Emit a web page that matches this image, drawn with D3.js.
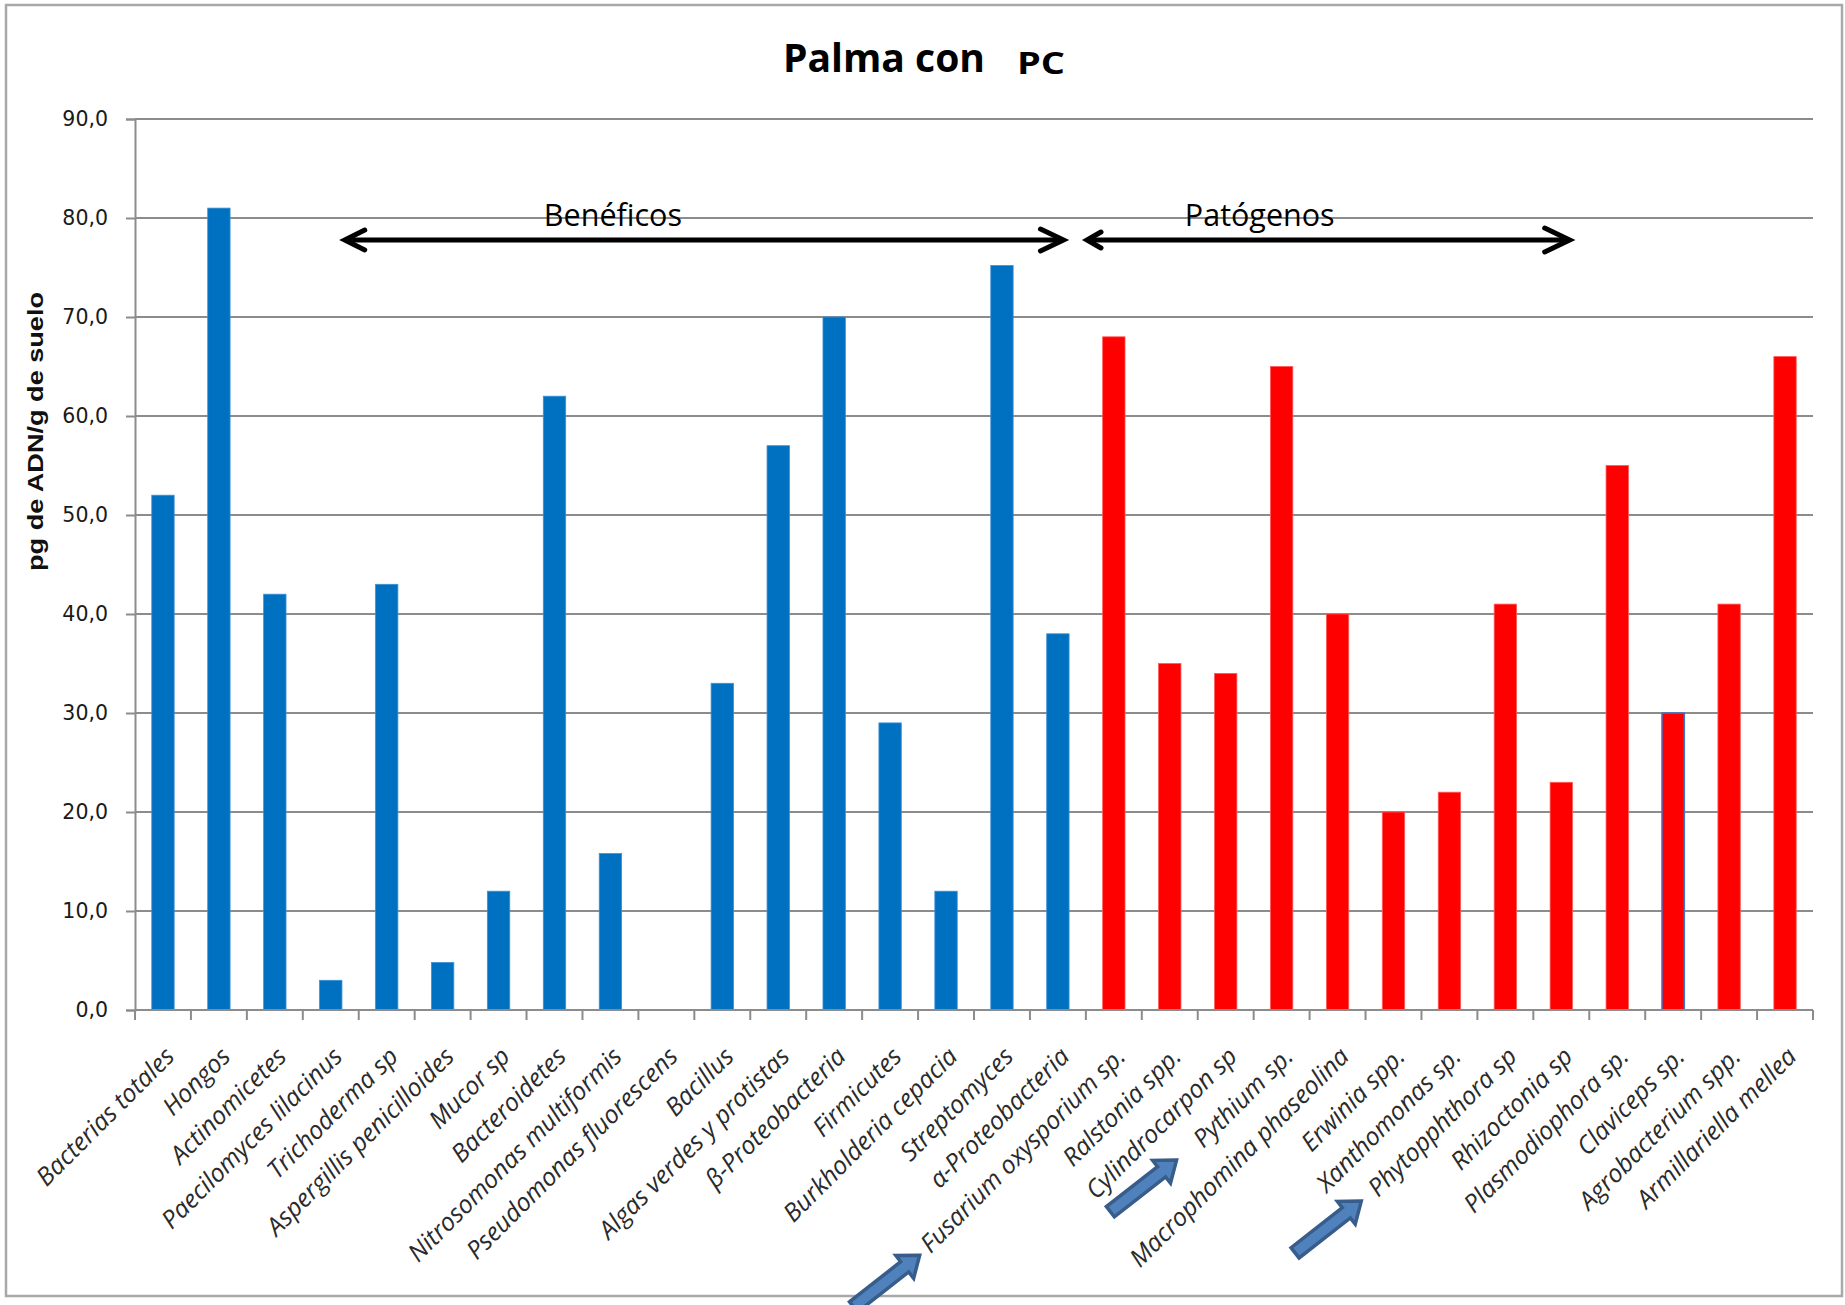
<!DOCTYPE html>
<html>
<head>
<meta charset="utf-8">
<script src="https://cdn.jsdelivr.net/npm/d3@7"></script>
<style>
  html, body { margin: 0; padding: 0; background: #ffffff; }
  svg { display: block; }
</style>
</head>
<body>
<svg id="chart" width="1845" height="1305"></svg>
<script>
// ---- data ----
const categories = [
  "Bacterias totales", "Hongos", "Actinomicetes", "Paecilomyces lilacinus",
  "Trichoderma sp", "Aspergillis penicilloides", "Mucor sp", "Bacteroidetes",
  "Nitrosomonas multiformis", "Pseudomonas fluorescens", "Bacillus",
  "Algas verdes y protistas", "β-Proteobacteria", "Firmicutes",
  "Burkholderia cepacia", "Streptomyces", "α-Proteobacteria",
  "Fusarium oxysporium sp.", "Ralstonia spp.", "Cylindrocarpon sp",
  "Pythium sp.", "Macrophomina phaseolina", "Erwinia spp.", "Xanthomonas sp.",
  "Phytopphthora sp", "Rhizoctonia sp", "Plasmodiophora sp.", "Claviceps sp.",
  "Agrobacterium spp.", "Armillariella mellea"
];
const values = [
  52, 81, 42, 3, 43, 4.8, 12, 62, 15.8, 0, 33, 57, 70, 29, 12, 75.2, 38,
  68, 35, 34, 65, 40, 20, 22, 41, 23, 55, 30, 41, 66
];
const groups = [
  "B","B","B","B","B","B","B","B","B","B","B","B","B","B","B","B","B",
  "P","P","P","P","P","P","P","P","P","P","P","P","P"
];
const groupNames = { B: "Benéficos", P: "Patógenos" };
const yTicks = [0, 10, 20, 30, 40, 50, 60, 70, 80, 90];
const titleMain = "Palma con";
const titleSub = "PC";
const yTitle = "pg de ADN/g de suelo";
const highlighted = ["Fusarium oxysporium sp.", "Pythium sp.", "Phytopphthora sp"];
const outlined = ["Claviceps sp."];

// ---- layout ----
const W = 1845, H = 1305;
const plot = { left: 135, right: 1813, top: 119, bottom: 1010 };
const colors = { B: "#0070C0", P: "#FF0000" };
const edge = { B: "#3d8fd4", P: "#ff5a5a" };
const gridColor = "#8c8c8c";

const svg = d3.select("#chart");

// outer chart frame
svg.append("rect")
  .attr("x", 6).attr("y", 5).attr("width", 1836).attr("height", 1291)
  .attr("fill", "#ffffff").attr("stroke", "#a8a8a8").attr("stroke-width", 2.5);

const x = d3.scaleBand()
  .domain(categories)
  .range([plot.left, plot.right])
  .paddingInner(0.6)
  .paddingOuter(0.3);

const y = d3.scaleLinear().domain([0, 90]).range([plot.bottom, plot.top]);

// gridlines
svg.append("g").selectAll("line")
  .data(yTicks)
  .join("line")
  .attr("x1", plot.left).attr("x2", plot.right)
  .attr("y1", d => y(d)).attr("y2", d => y(d))
  .attr("stroke", gridColor).attr("stroke-width", 2);

// y axis with comma decimals
const yAxis = d3.axisLeft(y)
  .tickValues(yTicks)
  .tickSize(9)
  .tickPadding(18)
  .tickFormat(d => d.toFixed(1).replace(".", ","));

const gy = svg.append("g")
  .attr("transform", `translate(${plot.left},0)`)
  .call(yAxis);
gy.select(".domain").attr("stroke", gridColor).attr("stroke-width", 2);
gy.selectAll(".tick line").attr("stroke", gridColor).attr("stroke-width", 2);
gy.selectAll(".tick text")
  .attr("font-family", "'DejaVu Sans', Verdana, sans-serif")
  .attr("font-size", 20.5)
  .attr("fill", "#1a1a1a");

// bars
svg.append("g").selectAll("rect")
  .data(categories.map((c, i) => ({ c, v: values[i], g: groups[i] })))
  .join("rect")
  .attr("x", d => x(d.c))
  .attr("width", x.bandwidth())
  .attr("y", d => y(d.v))
  .attr("height", d => y(0) - y(d.v))
  .attr("fill", d => colors[d.g])
  .attr("stroke", d => outlined.includes(d.c) ? "#4472c4" : edge[d.g])
  .attr("stroke-width", d => outlined.includes(d.c) ? 1.5 : 0.8);

// category axis: baseline and boundary ticks
const step = x.step();
const boundaries = d3.range(categories.length + 1).map(i => plot.left + i * step);
svg.append("line")
  .attr("x1", plot.left).attr("x2", plot.right)
  .attr("y1", y(0)).attr("y2", y(0))
  .attr("stroke", gridColor).attr("stroke-width", 2);
svg.append("g").selectAll("line")
  .data(boundaries)
  .join("line")
  .attr("x1", d => d).attr("x2", d => d)
  .attr("y1", y(0)).attr("y2", y(0) + 10)
  .attr("stroke", gridColor).attr("stroke-width", 2);

// rotated category labels
const labelY = y(0) + 48;
const labelDx = 13;
const labels = svg.append("g").selectAll("text")
  .data(categories)
  .join("text")
  .attr("transform", d => `translate(${x(d) + x.bandwidth() / 2 + labelDx},${labelY}) rotate(-45)`)
  .attr("text-anchor", "end")
  .attr("font-family", "'Open Sans', sans-serif")
  .attr("font-style", "italic")
  .attr("font-size", 25)
  .attr("fill", "#2a2a2a")
  .text(d => d);

// label start points (lower-left end of each rotated label)
const labelStart = {};
labels.each(function (d) {
  const L = this.getComputedTextLength();
  const ax = x(d) + x.bandwidth() / 2 + labelDx;
  labelStart[d] = [ax - L * Math.SQRT1_2, labelY + L * Math.SQRT1_2];
});

// y axis title
svg.append("text")
  .attr("transform", `translate(43,${(plot.top + plot.bottom) / 2 - 133}) rotate(-90)`)
  .attr("text-anchor", "middle")
  .attr("font-family", "'Liberation Sans', Arial, sans-serif")
  .attr("font-weight", "bold")
  .attr("font-size", 22)
  .attr("textLength", 279)
  .attr("lengthAdjust", "spacingAndGlyphs")
  .attr("fill", "#111")
  .text(yTitle);

// chart title
svg.append("text")
  .attr("x", 783).attr("y", 72)
  .attr("font-family", "'Open Sans', sans-serif")
  .attr("font-weight", "bold")
  .attr("font-size", 40)
  .attr("textLength", 202)
  .attr("lengthAdjust", "spacingAndGlyphs")
  .attr("fill", "#000")
  .text(titleMain);
svg.append("text")
  .attr("x", 1017).attr("y", 74)
  .attr("font-family", "'Open Sans', sans-serif")
  .attr("font-weight", "bold")
  .attr("font-size", 30)
  .attr("textLength", 48)
  .attr("lengthAdjust", "spacingAndGlyphs")
  .attr("fill", "#000")
  .text(titleSub);

// group spans (double-headed arrows with captions), in band units
const xAt = pos => plot.left + pos * step;
const spans = [
  { name: groupNames.B, from: 3.75, to: 16.6, text: 7.31, heads: [[20, 10], [23, 11]] },
  { name: groupNames.P, from: 17.02, to: 25.65, text: 18.77, heads: [[14, 8], [25, 12]] }
];
const spanY = 240;
const ann = svg.append("g");
spans.forEach(s => {
  const x0 = xAt(s.from), x1 = xAt(s.to);
  ann.append("line")
    .attr("x1", x0 + 2).attr("x2", x1 - 2)
    .attr("y1", spanY).attr("y2", spanY)
    .attr("stroke", "#000").attr("stroke-width", 5);
  const [lh, lw] = s.heads[0], [rh, rw] = s.heads[1];
  ann.append("path")
    .attr("d", `M${x0 + lh},${spanY - lw} L${x0},${spanY} L${x0 + lh},${spanY + lw}`)
    .attr("fill", "none").attr("stroke", "#000").attr("stroke-width", 5)
    .attr("stroke-linecap", "round").attr("stroke-linejoin", "miter");
  ann.append("path")
    .attr("d", `M${x1 - rh},${spanY - rw} L${x1},${spanY} L${x1 - rh},${spanY + rw}`)
    .attr("fill", "none").attr("stroke", "#000").attr("stroke-width", 5)
    .attr("stroke-linecap", "round").attr("stroke-linejoin", "miter");
  ann.append("text")
    .attr("x", xAt(s.text)).attr("y", 226)
    .attr("font-family", "'Open Sans', sans-serif")
    .attr("font-size", 30.5)
    .attr("fill", "#000")
    .text(s.name);
});

// block arrows pointing at selected pathogen labels (tip offset from label start)
const arrowOffsets = [[-11, 1], [-27, 11], [-17, 3]];
const blockArrow = "M0,0 L-19,-14.5 L-19,-6.5 L-84,-6.5 L-84,6.5 L-19,6.5 L-19,14.5 Z";
svg.append("g").selectAll("path")
  .data(highlighted)
  .join("path")
  .attr("transform", (d, i) => {
    const [sx, sy] = labelStart[d];
    const [ox, oy] = arrowOffsets[i];
    return `translate(${sx + ox},${sy + oy}) rotate(-38)`;
  })
  .attr("d", blockArrow)
  .attr("fill", "#4f81bd")
  .attr("stroke", "#385d8a")
  .attr("stroke-width", 3.5)
  .attr("stroke-linejoin", "miter");
</script>
</body>
</html>
